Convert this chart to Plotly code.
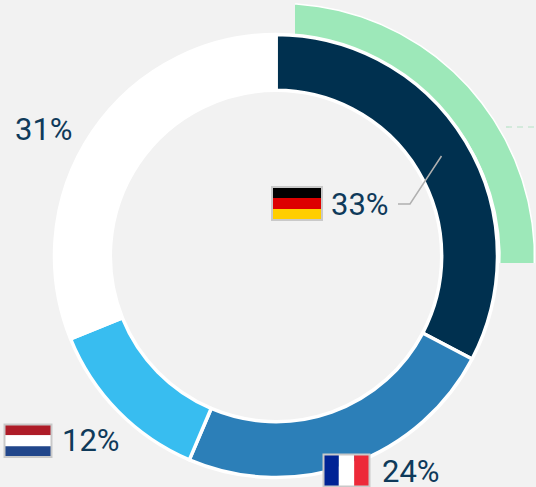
import numpy as np
import plotly.graph_objects as go

W, H = 536, 487
countries = ["Germany", "France", "Netherlands", "Other"]
shares = [32.7, 23.7, 12.5, 31.1]
labels_text = ["33%", "24%", "12%", "31%"]
colors = ["#00304f", "#2c7fb8", "#38bdf0", "#ffffff"]
label_xy = [(359.5, 204), (411, 471), (90.5, 440), (44, 129)]
BG = "#f2f2f2"
TEXT = "#0f3a5a"
GREEN = "#9de8b9"

# flags: left, top, right, bottom, stripe colours, stripe direction
flags = [
    (272, 187, 322, 220, ["#000000", "#dd0000", "#ffce00"], "h"),
    (323.5, 454.5, 369.5, 486.5, ["#002395", "#ffffff", "#ed2939"], "v"),
    (4.5, 424.5, 51.5, 457, ["#ae1c28", "#ffffff", "#21468b"], "h"),
]

cx, cy, r_out, hole = 276, 256, 221.5, 0.748
arc_cx, arc_cy, arc_r_in, arc_r_out = 280, 258, 220, 254.5
arc_left, arc_bottom = 295, 263


def px(x):
    return x / W


def py(y):
    return 1 - y / H


fig = go.Figure()

# highlight arc, clipped to its axes' rectangle
t = np.radians(np.linspace(-8, 100, 240))
rx = np.concatenate([arc_r_out * np.sin(t), arc_r_in * np.sin(t[::-1])])
ry = np.concatenate([arc_r_out * np.cos(t), arc_r_in * np.cos(t[::-1])])
fig.add_trace(go.Scatter(
    x=np.append(rx, rx[0]), y=np.append(ry, ry[0]), mode="lines",
    fill="toself", fillcolor=GREEN, line=dict(color="#ffffff", width=1.5),
    hoverinfo="skip", showlegend=False, xaxis="x", yaxis="y",
))

fig.add_trace(go.Pie(
    labels=countries, values=shares, sort=False, direction="clockwise", rotation=0,
    hole=hole, textinfo="none", showlegend=False,
    marker=dict(colors=colors, line=dict(color="#ffffff", width=3.5)),
    domain=dict(x=[px(cx - r_out), px(cx + r_out)], y=[py(cy + r_out), py(cy - r_out)]),
))

shapes = []


def add_rect(x0, y0, x1, y1, fill, line=None, lw=0):
    shapes.append(dict(type="rect", xref="paper", yref="paper", layer="above",
                       x0=px(x0), x1=px(x1), y0=py(y1), y1=py(y0), fillcolor=fill,
                       line=dict(color=line or fill, width=lw)))


for x0, y0, x1, y1, stripes, direction in flags:
    for i, c in enumerate(stripes):
        if direction == "h":
            h = (y1 - y0) / 3
            add_rect(x0, y0 + i * h, x1, y0 + (i + 1) * h, c)
        else:
            w = (x1 - x0) / 3
            add_rect(x0 + i * w, y0, x0 + (i + 1) * w, y1, c)
    shapes.append(dict(type="rect", xref="paper", yref="paper", layer="above",
                       x0=px(x0), x1=px(x1), y0=py(y1), y1=py(y0),
                       line=dict(color="#c9c9c9", width=2)))

# leader line for the first label
leader = [(398, 204), (410, 204), (441.5, 156)]
path = "M " + " L ".join(f"{px(x)} {py(y)}" for x, y in leader)
shapes.append(dict(type="path", xref="paper", yref="paper", layer="above", path=path,
                   line=dict(color="#b0b0b0", width=1.5)))
# dashed leader of the highlight arc
shapes.append(dict(type="line", xref="paper", yref="paper", layer="above",
                   x0=px(506), x1=px(536), y0=py(127), y1=py(127),
                   line=dict(color="#b5e2c6", width=1.2, dash="6px,5px")))

annotations = [
    dict(x=px(x), y=py(y), xref="paper", yref="paper", text=t_, showarrow=False,
         xanchor="center", yanchor="middle",
         font=dict(family="Roboto", size=31, color=TEXT, weight=400))
    for t_, (x, y) in zip(labels_text, label_xy)
]

fig.update_layout(
    width=W, height=H, margin=dict(l=0, r=0, t=0, b=0, pad=0),
    autosize=False, paper_bgcolor=BG, plot_bgcolor="rgba(0,0,0,0)",
    shapes=shapes, annotations=annotations, showlegend=False,
    xaxis=dict(domain=[px(arc_left), 1], range=[arc_left - arc_cx, W - arc_cx], visible=False),
    yaxis=dict(domain=[py(arc_bottom), 1], range=[arc_cy - arc_bottom, arc_cy], visible=False),
)
fig.write_html(
    "out.html",
    config=dict(displayModeBar=False),
    post_script="document.documentElement.style.overflow='hidden';document.body.style.margin='0';document.body.style.overflow='hidden';",
)
